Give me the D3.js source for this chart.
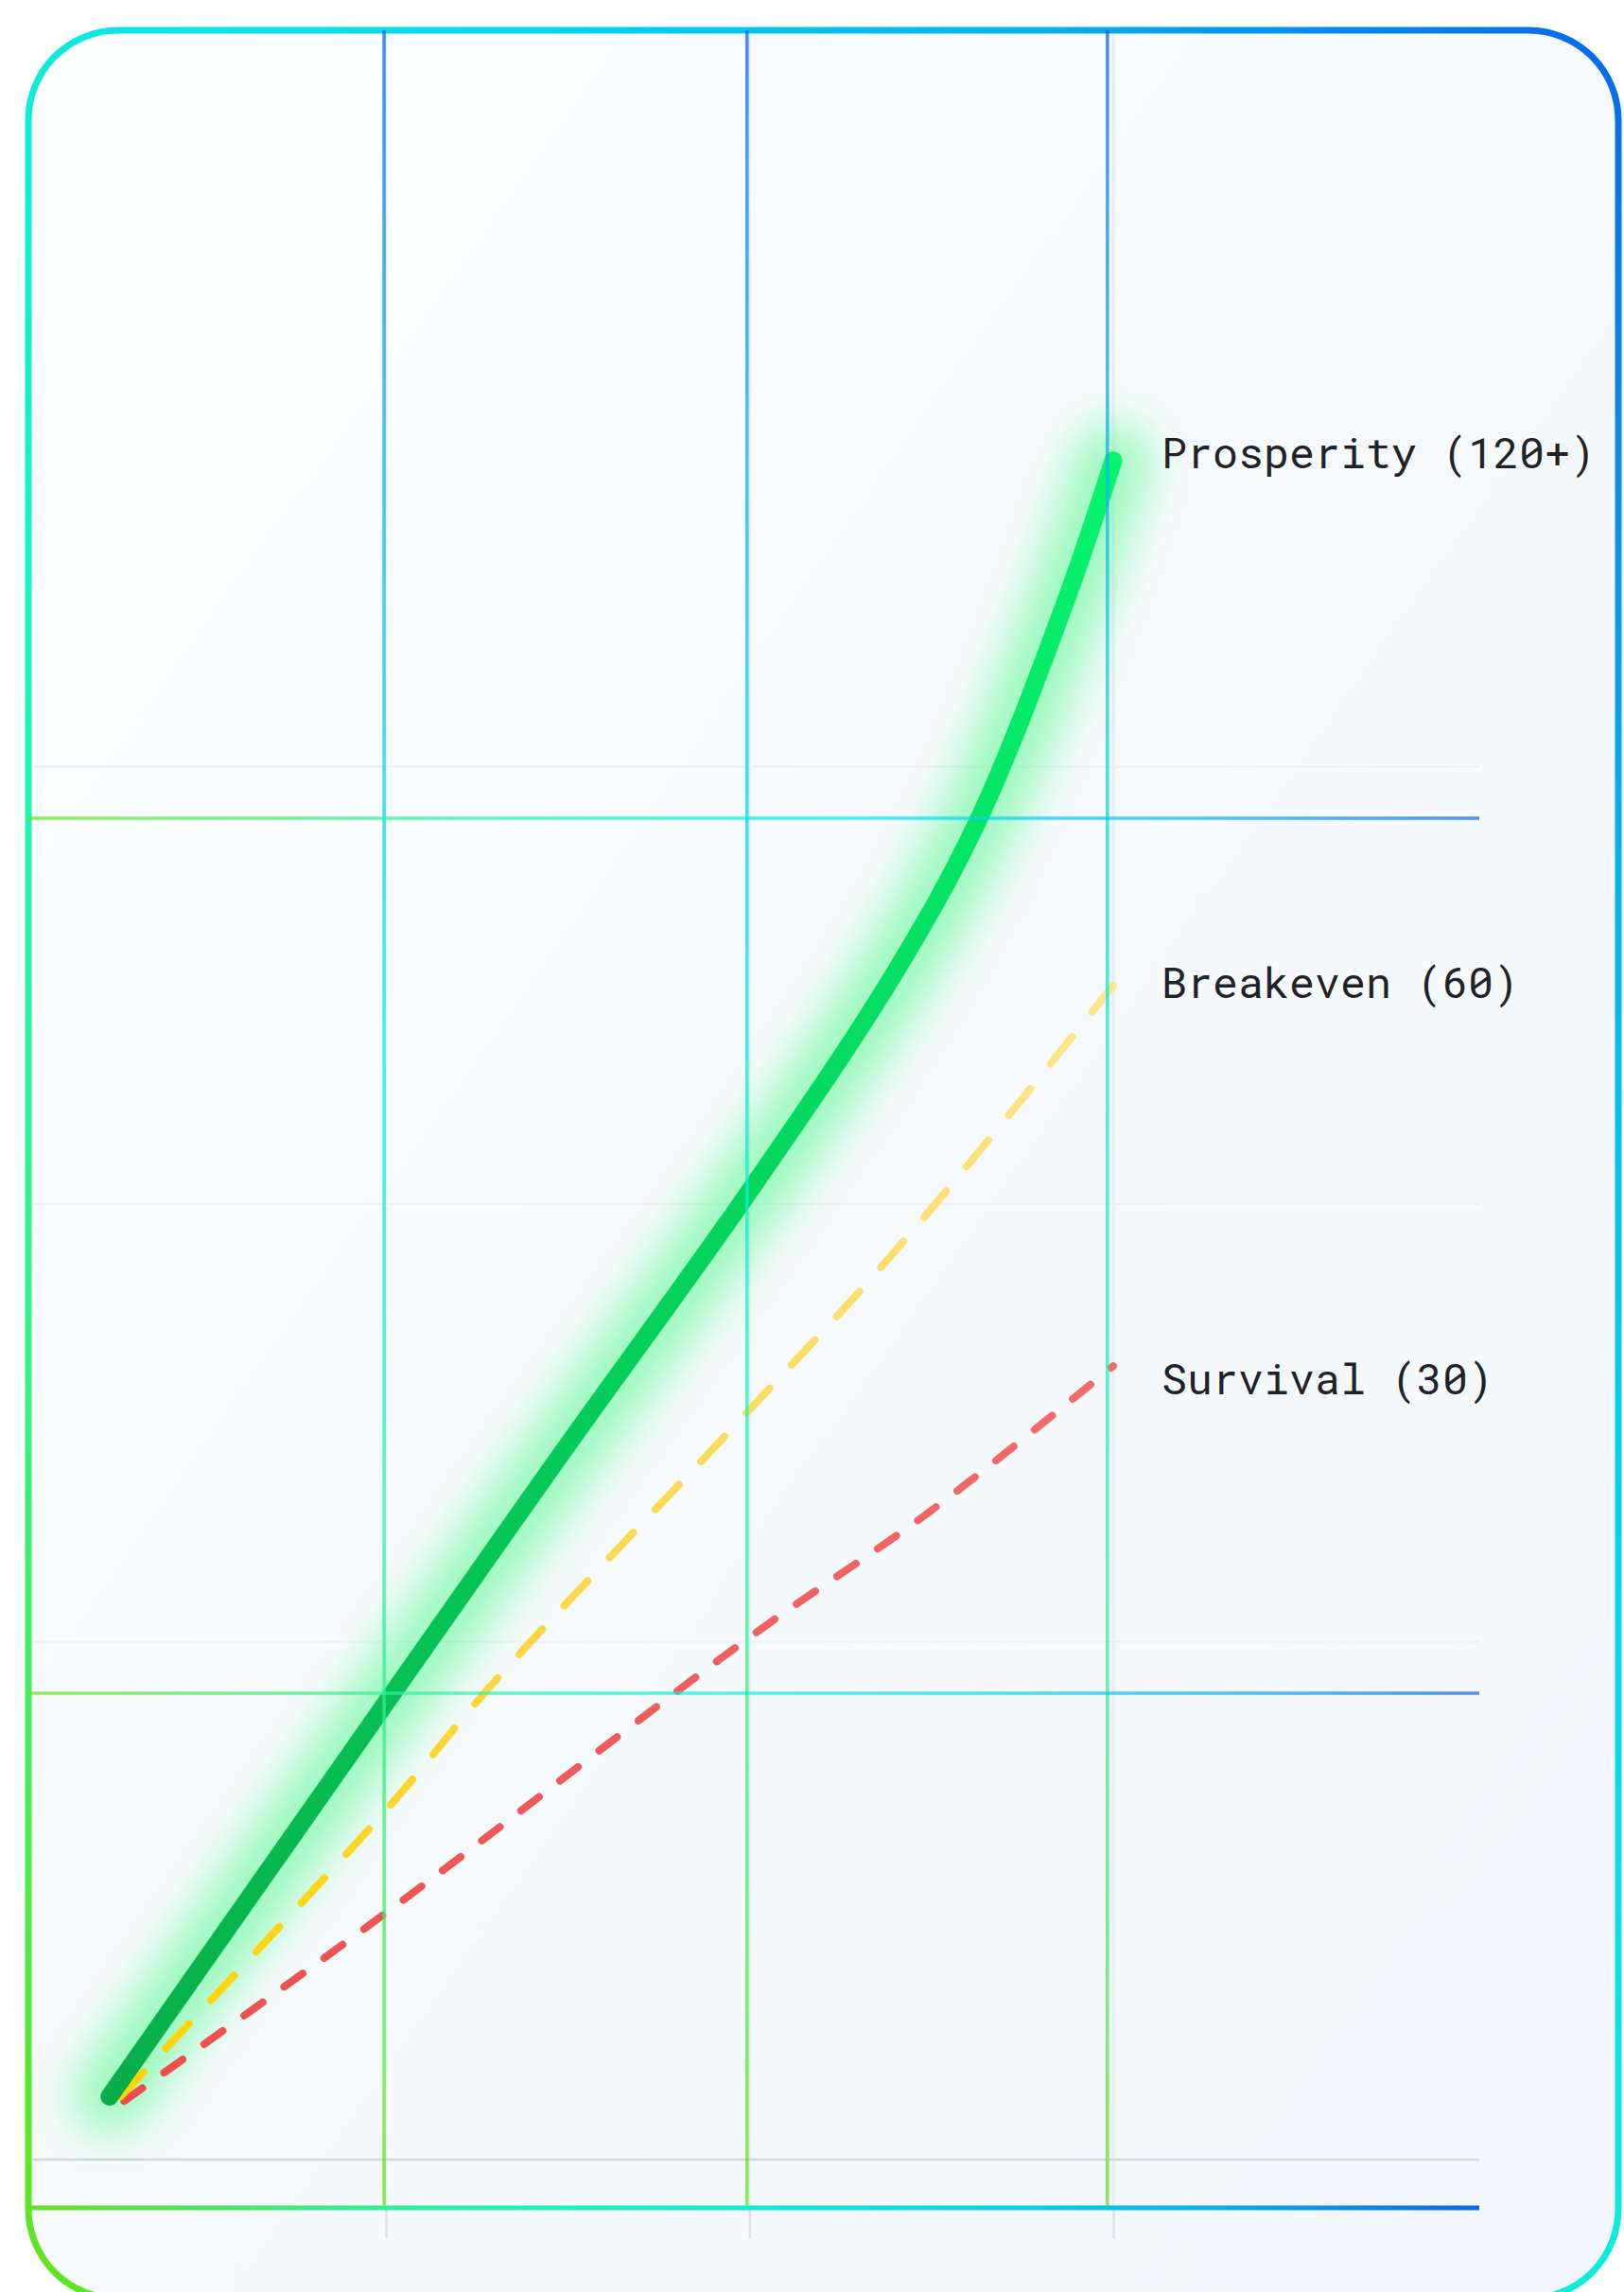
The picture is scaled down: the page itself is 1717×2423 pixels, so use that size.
<!DOCTYPE html>
<html lang="en">
  <head>
    <meta charset="UTF-8" />
    <title>Growth paths</title>
    <script src="https://d3js.org/d3.v7.min.js"></script>
    <style>
      body { margin: 0; background: #ffffff; }
      svg { display: block; }
    </style>
  </head>
  <body>
    <script>
      // x in years, y in abstract units
      var xTicks = [1, 2, 3];
      var gridValues = [1, 2, 3];
      var baseValue = -0.184;
      var frameX = [0.995, 1.993, 2.984];
      var frameY = [2.882, 0.882, -0.294];

      var seriesNames = ["Prosperity (120+)", "Breakeven (60)", "Survival (30)"];
      var prosperity = [[0.24, -0.04], [1.0, 0.86], [1.5, 1.45], [2.0, 2.03], [2.4, 2.53], [2.63, 2.88], [2.87, 3.38], [3.0, 3.7]];
      var breakeven = [[0.27, -0.04], [0.995, 0.61], [1.3, 0.91], [2.0, 1.53], [2.35, 1.845], [2.67, 2.16], [3.0, 2.5]];
      var survival = [[0.28, -0.05], [1.0, 0.38], [2.0, 1.01], [2.5, 1.3], [3.0, 1.63]];

      var width = 1717, height = 2423;
      var card = { x: 30, y: 32, w: 1681, h: 2398, r: 95 };
      var plotRight = 1564;

      var xScale = d3.scaleLinear().domain([0, 3]).range([23.5, 1177]);
      var yScale = d3.scaleLinear().domain([0, 4]).range([2198, 348]);

      var svg = d3.select("body").append("svg")
        .attr("width", width)
        .attr("height", height);

      var defs = svg.append("defs");

      var frameStops = [
        [0, "#63e41c"], [0.22, "#33f08a"], [0.36, "#1df3bd"], [0.5, "#0debdc"],
        [0.66, "#05d6ee"], [0.82, "#06b0ec"], [1, "#0867e8"]
      ];

      function gradient(id, units, x1, y1, x2, y2, stops) {
        var g = defs.append("linearGradient")
          .attr("id", id)
          .attr("gradientUnits", units)
          .attr("x1", x1).attr("y1", y1)
          .attr("x2", x2).attr("y2", y2);
        stops.forEach(function (s) {
          g.append("stop").attr("offset", s[0]).attr("stop-color", s[1]);
        });
      }

      var frameBottom = yScale(frameY[2]);
      gradient("cardStroke", "objectBoundingBox", 0, 1, 1, 0, frameStops);
      gradient("cardFill", "objectBoundingBox", 0, 0, 1, 1, [[0, "#fcfeff"], [1, "#f3f7fb"]]);
      gradient("hGrad", "userSpaceOnUse", card.x, 0, plotRight, 0, frameStops);
      gradient("vGrad", "userSpaceOnUse", 0, frameBottom, 0, card.y, frameStops);

      function lineGrad(id, data, stops) {
        gradient(id, "userSpaceOnUse", 0, yScale(data[0][1]), 0, yScale(data[data.length - 1][1]), stops);
      }
      lineGrad("greenGrad", prosperity, [[0, "#0aae4a"], [0.5, "#04d25b"], [1, "#08f46e"]]);
      lineGrad("yellowGrad", breakeven, [[0, "#ffd400"], [0.45, "#fbd84c"], [1, "#fde58c"]]);
      lineGrad("redGrad", survival, [[0, "#ee4c4c"], [1, "#f26c6c"]]);

      var glow = defs.append("filter").attr("id", "glow")
        .attr("x", "-30%").attr("y", "-20%").attr("width", "160%").attr("height", "140%");
      glow.append("feGaussianBlur").attr("stdDeviation", 24);

      // card
      svg.append("rect")
        .attr("x", card.x).attr("y", card.y)
        .attr("width", card.w).attr("height", card.h)
        .attr("rx", card.r).attr("ry", card.r)
        .attr("fill", "url(#cardFill)")
        .attr("stroke", "url(#cardStroke)")
        .attr("stroke-width", 7);

      // faint grey grid
      svg.selectAll(".hgrid").data(gridValues).enter().append("line")
        .attr("class", "hgrid")
        .attr("x1", card.x + 4).attr("x2", plotRight)
        .attr("y1", function (d) { return yScale(d); })
        .attr("y2", function (d) { return yScale(d); })
        .attr("stroke", "#eceff3").attr("stroke-width", 2);

      svg.selectAll(".vgrid").data(xTicks).enter().append("line")
        .attr("class", "vgrid")
        .attr("x1", function (d) { return xScale(d); })
        .attr("x2", function (d) { return xScale(d); })
        .attr("y1", card.y + 4).attr("y2", frameBottom)
        .attr("stroke", "#e9ecf1").attr("stroke-width", 3);

      svg.append("line")
        .attr("x1", card.x + 4).attr("x2", plotRight)
        .attr("y1", yScale(baseValue)).attr("y2", yScale(baseValue))
        .attr("stroke", "#d3d7dd").attr("stroke-width", 2.5);

      var xAxis = svg.append("g")
        .attr("transform", "translate(0," + frameBottom + ")")
        .call(d3.axisBottom(xScale).tickValues(xTicks).tickSize(32).tickFormat(""));
      xAxis.select(".domain").remove();
      xAxis.selectAll(".tick line").attr("stroke", "#dde0e6").attr("stroke-width", 2.5);

      // lines
      var line = d3.line()
        .x(function (d) { return xScale(d[0]); })
        .y(function (d) { return yScale(d[1]); })
        .curve(d3.curveCatmullRom.alpha(0.5));

      svg.append("path")
        .attr("d", line(prosperity))
        .attr("fill", "none")
        .attr("stroke", "#5af792")
        .attr("stroke-opacity", 0.6)
        .attr("stroke-width", 80)
        .attr("stroke-linecap", "round")
        .attr("filter", "url(#glow)");

      svg.append("path")
        .attr("d", line(survival))
        .attr("fill", "none")
        .attr("stroke", "url(#redGrad)")
        .attr("stroke-width", 8)
        .attr("stroke-linecap", "round")
        .attr("stroke-dasharray", "24 28");

      svg.append("path")
        .attr("d", line(breakeven))
        .attr("fill", "none")
        .attr("stroke", "url(#yellowGrad)")
        .attr("stroke-width", 8)
        .attr("stroke-linecap", "round")
        .attr("stroke-dasharray", "36 34");

      svg.append("path")
        .attr("d", line(prosperity))
        .attr("fill", "none")
        .attr("stroke", "url(#greenGrad)")
        .attr("stroke-width", 19)
        .attr("stroke-linecap", "round");

      // coloured frame on top
      svg.selectAll(".fx").data(frameX).enter().append("line")
        .attr("class", "fx")
        .attr("x1", function (d) { return xScale(d); })
        .attr("x2", function (d) { return xScale(d) + 0.01; })
        .attr("y1", card.y).attr("y2", frameBottom)
        .attr("stroke", "url(#vGrad)")
        .attr("stroke-opacity", 0.75)
        .attr("stroke-width", 3.5);

      svg.selectAll(".fy").data(frameY).enter().append("line")
        .attr("class", "fy")
        .attr("x1", card.x).attr("x2", plotRight)
        .attr("y1", function (d) { return yScale(d); })
        .attr("y2", function (d) { return yScale(d) + 0.01; })
        .attr("stroke", "url(#hGrad)")
        .attr("stroke-opacity", function (d, i) { return i === 2 ? 1 : 0.7; })
        .attr("stroke-width", function (d, i) { return i === 2 ? 5 : 3.5; });

      // labels
      var ends = [prosperity, breakeven, survival].map(function (s) { return s[s.length - 1]; });
      var nudge = [-5, 0, 16];
      svg.selectAll(".label").data(seriesNames).enter().append("text")
        .attr("class", "label")
        .attr("x", xScale(3) + 51)
        .attr("y", function (d, i) { return yScale(ends[i][1]) + nudge[i]; })
        .attr("dy", "0.3em")
        .attr("font-family", "'Roboto Mono', 'DejaVu Sans Mono', monospace")
        .attr("font-size", 45)
        .attr("fill", "#1f2327")
        .text(function (d) { return d; });
    </script>
  </body>
</html>
